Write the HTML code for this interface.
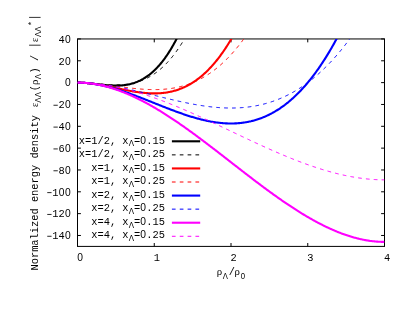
<!DOCTYPE html><html><head><meta charset="utf-8"><style>html,body{margin:0;padding:0;background:#fff}svg{display:block}text{font-family:"Liberation Mono",monospace;font-size:10.37px;fill:#000;white-space:pre}.g{font-family:"Liberation Sans",sans-serif}.s{font-family:"Liberation Serif",serif}</style></head><body>
<svg width="415" height="321" viewBox="0 0 415 321">
<rect width="415" height="321" fill="#fff"/>
<defs><filter id="ff" x="0" y="0" width="415" height="321" filterUnits="userSpaceOnUse"><feOffset dx="0" dy="0"/></filter>
<clipPath id="c"><rect x="77.50" y="38.95" width="307.00" height="207.45"/></clipPath></defs>
<g filter="url(#ff)">
<rect x="77.50" y="38.95" width="307.00" height="207.45" stroke="#000" stroke-width="1" fill="none"/>
<path d="M77.50 235.48h3.40M384.50 235.48h-3.40M77.50 213.64h3.40M384.50 213.64h-3.40M77.50 191.81h3.40M384.50 191.81h-3.40M77.50 169.97h3.40M384.50 169.97h-3.40M77.50 148.13h3.40M384.50 148.13h-3.40M77.50 126.30h3.40M384.50 126.30h-3.40M77.50 104.46h3.40M384.50 104.46h-3.40M77.50 82.62h3.40M384.50 82.62h-3.40M77.50 60.79h3.40M384.50 60.79h-3.40M77.50 38.95h3.40M384.50 38.95h-3.40M77.50 246.40v-3.40M77.50 38.95v3.40M154.25 246.40v-3.40M154.25 38.95v3.40M231.00 246.40v-3.40M231.00 38.95v3.40M307.75 246.40v-3.40M307.75 38.95v3.40M384.50 246.40v-3.40M384.50 38.95v3.40" stroke="#000" stroke-width="1" fill="none"/>
<g transform="translate(46.01,239.33) scale(1,1.000)"><path d="M1.25 -3.05h4.3" stroke="#000" stroke-width="0.85"/><text x="6.22" y="0" style="font-size:10.37px" xml:space="preserve">14</text><text class="g" x="18.92" y="0" style="font-size:10.27px">0</text></g>
<g transform="translate(46.01,217.49) scale(1,1.000)"><path d="M1.25 -3.05h4.3" stroke="#000" stroke-width="0.85"/><text x="6.22" y="0" style="font-size:10.37px" xml:space="preserve">12</text><text class="g" x="18.92" y="0" style="font-size:10.27px">0</text></g>
<g transform="translate(46.01,195.66) scale(1,1.000)"><path d="M1.25 -3.05h4.3" stroke="#000" stroke-width="0.85"/><text x="6.22" y="0" style="font-size:10.37px" xml:space="preserve">1</text><text class="g" x="12.70" y="0" style="font-size:10.27px">0</text><text class="g" x="18.92" y="0" style="font-size:10.27px">0</text></g>
<g transform="translate(52.23,173.82) scale(1,1.000)"><path d="M1.25 -3.05h4.3" stroke="#000" stroke-width="0.85"/><text x="6.22" y="0" style="font-size:10.37px" xml:space="preserve">8</text><text class="g" x="12.70" y="0" style="font-size:10.27px">0</text></g>
<g transform="translate(52.23,151.98) scale(1,1.000)"><path d="M1.25 -3.05h4.3" stroke="#000" stroke-width="0.85"/><text x="6.22" y="0" style="font-size:10.37px" xml:space="preserve">6</text><text class="g" x="12.70" y="0" style="font-size:10.27px">0</text></g>
<g transform="translate(52.23,130.15) scale(1,1.000)"><path d="M1.25 -3.05h4.3" stroke="#000" stroke-width="0.85"/><text x="6.22" y="0" style="font-size:10.37px" xml:space="preserve">4</text><text class="g" x="12.70" y="0" style="font-size:10.27px">0</text></g>
<g transform="translate(52.23,108.31) scale(1,1.000)"><path d="M1.25 -3.05h4.3" stroke="#000" stroke-width="0.85"/><text x="6.22" y="0" style="font-size:10.37px" xml:space="preserve">2</text><text class="g" x="12.70" y="0" style="font-size:10.27px">0</text></g>
<g transform="translate(64.68,86.47) scale(1,1.000)"><text class="g" x="0.26" y="0" style="font-size:10.27px">0</text></g>
<g transform="translate(58.46,64.64) scale(1,1.000)"><text x="0.00" y="0" style="font-size:10.37px" xml:space="preserve">2</text><text class="g" x="6.48" y="0" style="font-size:10.27px">0</text></g>
<g transform="translate(58.46,42.80) scale(1,1.000)"><text x="0.00" y="0" style="font-size:10.37px" xml:space="preserve">4</text><text class="g" x="6.48" y="0" style="font-size:10.27px">0</text></g>
<g transform="translate(77.09,260.60) scale(1,1.000)"><text class="g" x="0.26" y="0" style="font-size:10.27px">0</text></g>
<g transform="translate(153.84,260.60) scale(1,1.000)"><text x="0.00" y="0" style="font-size:10.37px" xml:space="preserve">1</text></g>
<g transform="translate(230.59,260.60) scale(1,1.000)"><text x="0.00" y="0" style="font-size:10.37px" xml:space="preserve">2</text></g>
<g transform="translate(307.34,260.60) scale(1,1.000)"><text x="0.00" y="0" style="font-size:10.37px" xml:space="preserve">3</text></g>
<g transform="translate(384.09,260.60) scale(1,1.000)"><text x="0.00" y="0" style="font-size:10.37px" xml:space="preserve">4</text></g>
<g clip-path="url(#c)" fill="none" stroke-linejoin="round">
<polyline points="77.50,82.62 78.27,82.63 79.03,82.64 79.80,82.66 80.57,82.68 81.34,82.71 82.11,82.74 82.87,82.79 83.64,82.83 84.41,82.88 85.17,82.94 85.94,83.00 86.71,83.06 87.48,83.13 88.25,83.20 89.01,83.28 89.78,83.36 90.55,83.44 91.31,83.52 92.08,83.60 92.85,83.69 93.62,83.78 94.39,83.87 95.15,83.96 95.92,84.05 96.69,84.14 97.45,84.23 98.22,84.32 98.99,84.41 99.76,84.50 100.53,84.59 101.29,84.68 102.06,84.76 102.83,84.84 103.59,84.92 104.36,85.00 105.13,85.08 105.90,85.15 106.66,85.22 107.43,85.28 108.20,85.34 108.97,85.40 109.73,85.45 110.50,85.49 111.27,85.54 112.04,85.57 112.81,85.60 113.57,85.63 114.34,85.64 115.11,85.65 115.88,85.66 116.64,85.65 117.41,85.64 118.18,85.62 118.94,85.60 119.71,85.56 120.48,85.52 121.25,85.46 122.01,85.40 122.78,85.33 123.55,85.24 124.32,85.15 125.09,85.05 125.85,84.93 126.62,84.81 127.39,84.67 128.16,84.53 128.92,84.37 129.69,84.19 130.46,84.01 131.23,83.81 131.99,83.60 132.76,83.38 133.53,83.14 134.30,82.89 135.06,82.62 135.83,82.34 136.60,82.05 137.37,81.74 138.13,81.41 138.90,81.07 139.67,80.71 140.44,80.34 141.20,79.95 141.97,79.54 142.74,79.12 143.50,78.68 144.27,78.22 145.04,77.74 145.81,77.24 146.57,76.73 147.34,76.19 148.11,75.64 148.88,75.07 149.65,74.48 150.41,73.86 151.18,73.23 151.95,72.58 152.72,71.90 153.48,71.21 154.25,70.49 155.02,69.75 155.78,68.99 156.55,68.21 157.32,67.40 158.09,66.57 158.86,65.72 159.62,64.85 160.39,63.95 161.16,63.02 161.93,62.07 162.69,61.10 163.46,60.10 164.23,59.08 165.00,58.03 165.76,56.95 166.53,55.85 167.30,54.72 168.06,53.57 168.83,52.39 169.60,51.18 170.37,49.94 171.13,48.68 171.90,47.38 172.67,46.06 173.44,44.71 174.20,43.33 174.97,41.92 175.74,40.49 176.51,39.02 177.28,37.52 178.04,35.99 178.81,34.43 179.58,32.84 180.35,31.21 181.11,29.56 181.88,27.87 182.65,26.15 183.42,24.40 184.18,22.62 184.95,20.80 185.72,18.95" stroke="#000000" stroke-width="2.10"/>
<polyline points="77.50,82.62 78.27,82.63 79.03,82.63 79.80,82.65 80.57,82.66 81.34,82.68 82.11,82.71 82.87,82.74 83.64,82.77 84.41,82.81 85.17,82.85 85.94,82.89 86.71,82.94 87.48,82.99 88.25,83.04 89.01,83.10 89.78,83.15 90.55,83.21 91.31,83.27 92.08,83.33 92.85,83.39 93.62,83.46 94.39,83.52 95.15,83.58 95.92,83.65 96.69,83.72 97.45,83.78 98.22,83.85 98.99,83.91 99.76,83.98 100.53,84.04 101.29,84.10 102.06,84.16 102.83,84.22 103.59,84.28 104.36,84.34 105.13,84.39 105.90,84.44 106.66,84.49 107.43,84.54 108.20,84.58 108.97,84.62 109.73,84.66 110.50,84.69 111.27,84.72 112.04,84.75 112.81,84.77 113.57,84.78 114.34,84.80 115.11,84.80 115.88,84.81 116.64,84.80 117.41,84.80 118.18,84.78 118.94,84.76 119.71,84.74 120.48,84.71 121.25,84.67 122.01,84.62 122.78,84.57 123.55,84.51 124.32,84.44 125.09,84.37 125.85,84.29 126.62,84.20 127.39,84.10 128.16,83.99 128.92,83.88 129.69,83.75 130.46,83.62 131.23,83.48 131.99,83.33 132.76,83.17 133.53,83.00 134.30,82.82 135.06,82.62 135.83,82.42 136.60,82.21 137.37,81.99 138.13,81.75 138.90,81.51 139.67,81.25 140.44,80.98 141.20,80.70 141.97,80.40 142.74,80.10 143.50,79.78 144.27,79.45 145.04,79.11 145.81,78.75 146.57,78.38 147.34,77.99 148.11,77.60 148.88,77.18 149.65,76.76 150.41,76.32 151.18,75.86 151.95,75.39 152.72,74.91 153.48,74.41 154.25,73.89 155.02,73.36 155.78,72.81 156.55,72.25 157.32,71.66 158.09,71.07 158.86,70.45 159.62,69.82 160.39,69.18 161.16,68.51 161.93,67.83 162.69,67.13 163.46,66.41 164.23,65.67 165.00,64.92 165.76,64.14 166.53,63.35 167.30,62.54 168.06,61.70 168.83,60.85 169.60,59.98 170.37,59.09 171.13,58.18 171.90,57.25 172.67,56.30 173.44,55.33 174.20,54.33 174.97,53.32 175.74,52.28 176.51,51.23 177.28,50.15 178.04,49.05 178.81,47.92 179.58,46.78 180.35,45.61 181.11,44.42 181.88,43.20 182.65,41.97 183.42,40.70 184.18,39.42 184.95,38.11 185.72,36.78 186.49,35.42 187.25,34.04 188.02,32.63 188.79,31.20 189.56,29.75 190.32,28.26 191.09,26.76 191.86,25.22 192.62,23.66 193.39,22.08 194.16,20.47 194.93,18.83 195.69,17.16" stroke="#000000" stroke-width="1.00" stroke-dasharray="3.7 4.15"/>
<polyline points="77.50,82.62 78.27,82.63 79.03,82.64 79.80,82.65 80.57,82.67 81.34,82.70 82.11,82.74 82.87,82.77 83.64,82.82 84.41,82.87 85.17,82.93 85.94,82.99 86.71,83.05 87.48,83.12 88.25,83.20 89.01,83.28 89.78,83.36 90.55,83.45 91.31,83.55 92.08,83.64 92.85,83.75 93.62,83.85 94.39,83.96 95.15,84.07 95.92,84.19 96.69,84.31 97.45,84.43 98.22,84.56 98.99,84.69 99.76,84.82 100.53,84.95 101.29,85.09 102.06,85.23 102.83,85.37 103.59,85.52 104.36,85.66 105.13,85.81 105.90,85.96 106.66,86.11 107.43,86.26 108.20,86.42 108.97,86.58 109.73,86.73 110.50,86.89 111.27,87.05 112.04,87.21 112.81,87.37 113.57,87.53 114.34,87.69 115.11,87.85 115.88,88.02 116.64,88.18 117.41,88.34 118.18,88.50 118.94,88.66 119.71,88.82 120.48,88.98 121.25,89.14 122.01,89.30 122.78,89.46 123.55,89.61 124.32,89.77 125.09,89.92 125.85,90.07 126.62,90.22 127.39,90.37 128.16,90.52 128.92,90.66 129.69,90.80 130.46,90.94 131.23,91.08 131.99,91.21 132.76,91.34 133.53,91.47 134.30,91.60 135.06,91.72 135.83,91.84 136.60,91.96 137.37,92.07 138.13,92.18 138.90,92.29 139.67,92.39 140.44,92.48 141.20,92.58 141.97,92.67 142.74,92.75 143.50,92.83 144.27,92.91 145.04,92.98 145.81,93.04 146.57,93.11 147.34,93.16 148.11,93.21 148.88,93.26 149.65,93.30 150.41,93.33 151.18,93.36 151.95,93.38 152.72,93.39 153.48,93.40 154.25,93.41 155.02,93.40 155.78,93.39 156.55,93.38 157.32,93.35 158.09,93.32 158.86,93.29 159.62,93.24 160.39,93.19 161.16,93.13 161.93,93.06 162.69,92.99 163.46,92.90 164.23,92.81 165.00,92.71 165.76,92.61 166.53,92.49 167.30,92.37 168.06,92.23 168.83,92.09 169.60,91.94 170.37,91.78 171.13,91.61 171.90,91.43 172.67,91.25 173.44,91.05 174.20,90.84 174.97,90.62 175.74,90.40 176.51,90.16 177.28,89.91 178.04,89.66 178.81,89.39 179.58,89.11 180.35,88.82 181.11,88.52 181.88,88.21 182.65,87.89 183.42,87.55 184.18,87.21 184.95,86.85 185.72,86.48 186.49,86.10 187.25,85.71 188.02,85.31 188.79,84.89 189.56,84.46 190.32,84.02 191.09,83.57 191.86,83.10 192.62,82.62 193.39,82.13 194.16,81.63 194.93,81.11 195.69,80.58 196.46,80.03 197.23,79.47 198.00,78.90 198.76,78.32 199.53,77.72 200.30,77.10 201.07,76.47 201.84,75.83 202.60,75.17 203.37,74.50 204.14,73.82 204.91,73.11 205.67,72.40 206.44,71.67 207.21,70.92 207.97,70.16 208.74,69.38 209.51,68.59 210.28,67.78 211.04,66.95 211.81,66.11 212.58,65.25 213.35,64.38 214.12,63.49 214.88,62.58 215.65,61.66 216.42,60.72 217.19,59.76 217.95,58.79 218.72,57.80 219.49,56.79 220.25,55.76 221.02,54.72 221.79,53.66 222.56,52.58 223.33,51.48 224.09,50.37 224.86,49.23 225.63,48.08 226.39,46.91 227.16,45.72 227.93,44.51 228.70,43.28 229.47,42.04 230.23,40.77 231.00,39.49 231.77,38.19 232.53,36.86 233.30,35.52 234.07,34.16 234.84,32.77 235.61,31.37 236.37,29.95 237.14,28.50 237.91,27.04 238.68,25.56 239.44,24.05 240.21,22.53 240.98,20.98 241.75,19.41 242.51,17.82" stroke="#ff0000" stroke-width="2.10"/>
<polyline points="77.50,82.62 78.27,82.63 79.03,82.63 79.80,82.64 80.57,82.66 81.34,82.67 82.11,82.70 82.87,82.72 83.64,82.75 84.41,82.78 85.17,82.82 85.94,82.86 86.71,82.90 87.48,82.95 88.25,83.00 89.01,83.05 89.78,83.10 90.55,83.16 91.31,83.22 92.08,83.28 92.85,83.35 93.62,83.42 94.39,83.49 95.15,83.56 95.92,83.64 96.69,83.72 97.45,83.80 98.22,83.88 98.99,83.96 99.76,84.05 100.53,84.13 101.29,84.22 102.06,84.31 102.83,84.40 103.59,84.50 104.36,84.59 105.13,84.69 105.90,84.79 106.66,84.88 107.43,84.98 108.20,85.08 108.97,85.18 109.73,85.29 110.50,85.39 111.27,85.49 112.04,85.60 112.81,85.70 113.57,85.80 114.34,85.91 115.11,86.01 115.88,86.12 116.64,86.22 117.41,86.33 118.18,86.43 118.94,86.54 119.71,86.64 120.48,86.74 121.25,86.85 122.01,86.95 122.78,87.05 123.55,87.15 124.32,87.25 125.09,87.35 125.85,87.45 126.62,87.55 127.39,87.64 128.16,87.74 128.92,87.83 129.69,87.92 130.46,88.01 131.23,88.10 131.99,88.19 132.76,88.27 133.53,88.36 134.30,88.44 135.06,88.52 135.83,88.60 136.60,88.67 137.37,88.75 138.13,88.82 138.90,88.88 139.67,88.95 140.44,89.01 141.20,89.07 141.97,89.13 142.74,89.19 143.50,89.24 144.27,89.29 145.04,89.33 145.81,89.38 146.57,89.42 147.34,89.45 148.11,89.48 148.88,89.51 149.65,89.54 150.41,89.56 151.18,89.58 151.95,89.59 152.72,89.60 153.48,89.61 154.25,89.61 155.02,89.61 155.78,89.60 156.55,89.59 157.32,89.58 158.09,89.56 158.86,89.53 159.62,89.50 160.39,89.47 161.16,89.43 161.93,89.39 162.69,89.34 163.46,89.29 164.23,89.23 165.00,89.16 165.76,89.09 166.53,89.02 167.30,88.94 168.06,88.85 168.83,88.76 169.60,88.66 170.37,88.56 171.13,88.45 171.90,88.33 172.67,88.21 173.44,88.08 174.20,87.95 174.97,87.81 175.74,87.66 176.51,87.51 177.28,87.35 178.04,87.18 178.81,87.01 179.58,86.83 180.35,86.64 181.11,86.44 181.88,86.24 182.65,86.03 183.42,85.82 184.18,85.59 184.95,85.36 185.72,85.12 186.49,84.88 187.25,84.62 188.02,84.36 188.79,84.09 189.56,83.82 190.32,83.53 191.09,83.24 191.86,82.93 192.62,82.62 193.39,82.31 194.16,81.98 194.93,81.64 195.69,81.30 196.46,80.94 197.23,80.58 198.00,80.21 198.76,79.83 199.53,79.44 200.30,79.05 201.07,78.64 201.84,78.22 202.60,77.80 203.37,77.36 204.14,76.92 204.91,76.46 205.67,76.00 206.44,75.52 207.21,75.04 207.97,74.55 208.74,74.04 209.51,73.53 210.28,73.00 211.04,72.47 211.81,71.92 212.58,71.37 213.35,70.80 214.12,70.23 214.88,69.64 215.65,69.04 216.42,68.43 217.19,67.81 217.95,67.18 218.72,66.54 219.49,65.88 220.25,65.22 221.02,64.54 221.79,63.85 222.56,63.15 223.33,62.44 224.09,61.72 224.86,60.99 225.63,60.24 226.39,59.48 227.16,58.71 227.93,57.93 228.70,57.13 229.47,56.32 230.23,55.50 231.00,54.67 231.77,53.83 232.53,52.97 233.30,52.10 234.07,51.22 234.84,50.32 235.61,49.41 236.37,48.49 237.14,47.55 237.91,46.61 238.68,45.64 239.44,44.67 240.21,43.68 240.98,42.68 241.75,41.66 242.51,40.63 243.28,39.59 244.05,38.53 244.82,37.46 245.58,36.37 246.35,35.27 247.12,34.16 247.89,33.03 248.65,31.89 249.42,30.73 250.19,29.56 250.96,28.37 251.72,27.17 252.49,25.96 253.26,24.73 254.03,23.48 254.79,22.22 255.56,20.94 256.33,19.65 257.10,18.34" stroke="#ff0000" stroke-width="1.00" stroke-dasharray="3.7 4.15"/>
<polyline points="77.50,82.62 78.27,82.63 79.03,82.64 79.80,82.65 80.57,82.67 81.34,82.70 82.11,82.73 82.87,82.77 83.64,82.81 84.41,82.86 85.17,82.92 85.94,82.98 86.71,83.05 87.48,83.12 88.25,83.20 89.01,83.28 89.78,83.37 90.55,83.46 91.31,83.56 92.08,83.66 92.85,83.77 93.62,83.88 94.39,84.00 95.15,84.12 95.92,84.25 96.69,84.38 97.45,84.52 98.22,84.66 98.99,84.80 99.76,84.95 100.53,85.11 101.29,85.26 102.06,85.43 102.83,85.59 103.59,85.77 104.36,85.94 105.13,86.12 105.90,86.30 106.66,86.49 107.43,86.68 108.20,86.87 108.97,87.07 109.73,87.27 110.50,87.48 111.27,87.69 112.04,87.90 112.81,88.11 113.57,88.33 114.34,88.56 115.11,88.78 115.88,89.01 116.64,89.24 117.41,89.47 118.18,89.71 118.94,89.95 119.71,90.20 120.48,90.44 121.25,90.69 122.01,90.94 122.78,91.19 123.55,91.45 124.32,91.71 125.09,91.97 125.85,92.23 126.62,92.50 127.39,92.77 128.16,93.04 128.92,93.31 129.69,93.58 130.46,93.86 131.23,94.14 131.99,94.42 132.76,94.70 133.53,94.98 134.30,95.27 135.06,95.55 135.83,95.84 136.60,96.13 137.37,96.42 138.13,96.71 138.90,97.01 139.67,97.30 140.44,97.60 141.20,97.90 141.97,98.19 142.74,98.49 143.50,98.79 144.27,99.09 145.04,99.40 145.81,99.70 146.57,100.00 147.34,100.30 148.11,100.61 148.88,100.91 149.65,101.22 150.41,101.52 151.18,101.83 151.95,102.14 152.72,102.44 153.48,102.75 154.25,103.06 155.02,103.36 155.78,103.67 156.55,103.97 157.32,104.28 158.09,104.59 158.86,104.89 159.62,105.20 160.39,105.50 161.16,105.81 161.93,106.11 162.69,106.41 163.46,106.72 164.23,107.02 165.00,107.32 165.76,107.62 166.53,107.92 167.30,108.22 168.06,108.51 168.83,108.81 169.60,109.10 170.37,109.40 171.13,109.69 171.90,109.98 172.67,110.27 173.44,110.56 174.20,110.84 174.97,111.13 175.74,111.41 176.51,111.69 177.28,111.97 178.04,112.25 178.81,112.53 179.58,112.80 180.35,113.07 181.11,113.34 181.88,113.61 182.65,113.88 183.42,114.14 184.18,114.40 184.95,114.66 185.72,114.92 186.49,115.17 187.25,115.42 188.02,115.67 188.79,115.92 189.56,116.16 190.32,116.40 191.09,116.64 191.86,116.87 192.62,117.10 193.39,117.33 194.16,117.56 194.93,117.78 195.69,118.00 196.46,118.21 197.23,118.42 198.00,118.63 198.76,118.84 199.53,119.04 200.30,119.24 201.07,119.43 201.84,119.62 202.60,119.81 203.37,119.99 204.14,120.17 204.91,120.35 205.67,120.52 206.44,120.68 207.21,120.85 207.97,121.01 208.74,121.16 209.51,121.31 210.28,121.45 211.04,121.60 211.81,121.73 212.58,121.86 213.35,121.99 214.12,122.11 214.88,122.23 215.65,122.34 216.42,122.45 217.19,122.55 217.95,122.65 218.72,122.75 219.49,122.83 220.25,122.92 221.02,122.99 221.79,123.06 222.56,123.13 223.33,123.19 224.09,123.25 224.86,123.30 225.63,123.34 226.39,123.38 227.16,123.41 227.93,123.44 228.70,123.46 229.47,123.48 230.23,123.48 231.00,123.49 231.77,123.48 232.53,123.48 233.30,123.46 234.07,123.44 234.84,123.41 235.61,123.38 236.37,123.33 237.14,123.29 237.91,123.23 238.68,123.17 239.44,123.10 240.21,123.03 240.98,122.95 241.75,122.86 242.51,122.76 243.28,122.66 244.05,122.55 244.82,122.44 245.58,122.31 246.35,122.18 247.12,122.04 247.89,121.90 248.65,121.74 249.42,121.58 250.19,121.41 250.96,121.24 251.72,121.05 252.49,120.86 253.26,120.66 254.03,120.45 254.79,120.24 255.56,120.01 256.33,119.78 257.10,119.54 257.86,119.30 258.63,119.04 259.40,118.77 260.16,118.50 260.93,118.22 261.70,117.93 262.47,117.63 263.24,117.32 264.00,117.01 264.77,116.68 265.54,116.35 266.31,116.01 267.07,115.66 267.84,115.30 268.61,114.93 269.38,114.55 270.14,114.16 270.91,113.76 271.68,113.36 272.44,112.94 273.21,112.52 273.98,112.08 274.75,111.64 275.51,111.18 276.28,110.72 277.05,110.25 277.82,109.76 278.59,109.27 279.35,108.77 280.12,108.26 280.89,107.73 281.65,107.20 282.42,106.66 283.19,106.10 283.96,105.54 284.73,104.97 285.49,104.38 286.26,103.79 287.03,103.18 287.80,102.57 288.56,101.94 289.33,101.30 290.10,100.65 290.87,99.99 291.63,99.32 292.40,98.64 293.17,97.95 293.93,97.25 294.70,96.53 295.47,95.81 296.24,95.07 297.00,94.32 297.77,93.56 298.54,92.79 299.31,92.01 300.07,91.22 300.84,90.41 301.61,89.59 302.38,88.76 303.14,87.92 303.91,87.07 304.68,86.20 305.45,85.33 306.22,84.44 306.98,83.54 307.75,82.62 308.52,81.70 309.28,80.76 310.05,79.81 310.82,78.85 311.59,77.87 312.36,76.88 313.12,75.88 313.89,74.87 314.66,73.84 315.43,72.81 316.19,71.75 316.96,70.69 317.73,69.61 318.50,68.52 319.26,67.42 320.03,66.30 320.80,65.17 321.57,64.03 322.33,62.87 323.10,61.70 323.87,60.52 324.63,59.32 325.40,58.11 326.17,56.89 326.94,55.65 327.71,54.39 328.47,53.13 329.24,51.85 330.01,50.56 330.78,49.25 331.54,47.93 332.31,46.59 333.08,45.24 333.84,43.88 334.61,42.50 335.38,41.10 336.15,39.70 336.91,38.27 337.68,36.84 338.45,35.38 339.22,33.92 339.99,32.44 340.75,30.94 341.52,29.43 342.29,27.91 343.06,26.36 343.82,24.81 344.59,23.24 345.36,21.65 346.12,20.05 346.89,18.43" stroke="#0000ff" stroke-width="2.10"/>
<polyline points="77.50,82.62 78.27,82.63 79.03,82.63 79.80,82.64 80.57,82.65 81.34,82.67 82.11,82.69 82.87,82.71 83.64,82.74 84.41,82.77 85.17,82.81 85.94,82.85 86.71,82.89 87.48,82.93 88.25,82.98 89.01,83.03 89.78,83.09 90.55,83.14 91.31,83.20 92.08,83.27 92.85,83.34 93.62,83.41 94.39,83.48 95.15,83.55 95.92,83.63 96.69,83.72 97.45,83.80 98.22,83.89 98.99,83.98 99.76,84.07 100.53,84.17 101.29,84.27 102.06,84.37 102.83,84.47 103.59,84.58 104.36,84.69 105.13,84.80 105.90,84.91 106.66,85.03 107.43,85.15 108.20,85.27 108.97,85.39 109.73,85.51 110.50,85.64 111.27,85.77 112.04,85.90 112.81,86.04 113.57,86.17 114.34,86.31 115.11,86.45 115.88,86.59 116.64,86.74 117.41,86.88 118.18,87.03 118.94,87.18 119.71,87.33 120.48,87.48 121.25,87.64 122.01,87.80 122.78,87.95 123.55,88.11 124.32,88.27 125.09,88.44 125.85,88.60 126.62,88.76 127.39,88.93 128.16,89.10 128.92,89.27 129.69,89.44 130.46,89.61 131.23,89.78 131.99,89.96 132.76,90.13 133.53,90.31 134.30,90.49 135.06,90.66 135.83,90.84 136.60,91.02 137.37,91.20 138.13,91.39 138.90,91.57 139.67,91.75 140.44,91.94 141.20,92.12 141.97,92.31 142.74,92.49 143.50,92.68 144.27,92.87 145.04,93.05 145.81,93.24 146.57,93.43 147.34,93.62 148.11,93.81 148.88,94.00 149.65,94.19 150.41,94.38 151.18,94.57 151.95,94.76 152.72,94.95 153.48,95.14 154.25,95.33 155.02,95.52 155.78,95.71 156.55,95.90 157.32,96.09 158.09,96.28 158.86,96.47 159.62,96.66 160.39,96.85 161.16,97.04 161.93,97.23 162.69,97.42 163.46,97.60 164.23,97.79 165.00,97.98 165.76,98.17 166.53,98.35 167.30,98.54 168.06,98.72 168.83,98.91 169.60,99.09 170.37,99.27 171.13,99.45 171.90,99.63 172.67,99.81 173.44,99.99 174.20,100.17 174.97,100.35 175.74,100.53 176.51,100.70 177.28,100.87 178.04,101.05 178.81,101.22 179.58,101.39 180.35,101.56 181.11,101.73 181.88,101.89 182.65,102.06 183.42,102.22 184.18,102.38 184.95,102.55 185.72,102.70 186.49,102.86 187.25,103.02 188.02,103.17 188.79,103.33 189.56,103.48 190.32,103.63 191.09,103.77 191.86,103.92 192.62,104.06 193.39,104.21 194.16,104.35 194.93,104.48 195.69,104.62 196.46,104.75 197.23,104.89 198.00,105.02 198.76,105.14 199.53,105.27 200.30,105.39 201.07,105.51 201.84,105.63 202.60,105.75 203.37,105.86 204.14,105.97 204.91,106.08 205.67,106.19 206.44,106.29 207.21,106.39 207.97,106.49 208.74,106.59 209.51,106.68 210.28,106.77 211.04,106.86 211.81,106.94 212.58,107.02 213.35,107.10 214.12,107.18 214.88,107.25 215.65,107.32 216.42,107.39 217.19,107.45 217.95,107.51 218.72,107.57 219.49,107.63 220.25,107.68 221.02,107.73 221.79,107.77 222.56,107.81 223.33,107.85 224.09,107.88 224.86,107.92 225.63,107.94 226.39,107.97 227.16,107.99 227.93,108.00 228.70,108.02 229.47,108.03 230.23,108.03 231.00,108.03 231.77,108.03 232.53,108.03 233.30,108.02 234.07,108.00 234.84,107.99 235.61,107.96 236.37,107.94 237.14,107.91 237.91,107.87 238.68,107.84 239.44,107.79 240.21,107.75 240.98,107.70 241.75,107.64 242.51,107.58 243.28,107.52 244.05,107.45 244.82,107.38 245.58,107.30 246.35,107.22 247.12,107.13 247.89,107.04 248.65,106.95 249.42,106.85 250.19,106.74 250.96,106.63 251.72,106.52 252.49,106.40 253.26,106.28 254.03,106.15 254.79,106.01 255.56,105.87 256.33,105.73 257.10,105.58 257.86,105.43 258.63,105.27 259.40,105.10 260.16,104.93 260.93,104.76 261.70,104.58 262.47,104.39 263.24,104.20 264.00,104.01 264.77,103.80 265.54,103.60 266.31,103.38 267.07,103.16 267.84,102.94 268.61,102.71 269.38,102.48 270.14,102.23 270.91,101.99 271.68,101.73 272.44,101.48 273.21,101.21 273.98,100.94 274.75,100.67 275.51,100.38 276.28,100.10 277.05,99.80 277.82,99.50 278.59,99.19 279.35,98.88 280.12,98.56 280.89,98.24 281.65,97.91 282.42,97.57 283.19,97.22 283.96,96.87 284.73,96.52 285.49,96.15 286.26,95.78 287.03,95.41 287.80,95.02 288.56,94.63 289.33,94.24 290.10,93.83 290.87,93.42 291.63,93.01 292.40,92.58 293.17,92.15 293.93,91.72 294.70,91.27 295.47,90.82 296.24,90.36 297.00,89.90 297.77,89.43 298.54,88.95 299.31,88.46 300.07,87.97 300.84,87.47 301.61,86.96 302.38,86.44 303.14,85.92 303.91,85.39 304.68,84.85 305.45,84.30 306.22,83.75 306.98,83.19 307.75,82.62 308.52,82.05 309.28,81.46 310.05,80.87 310.82,80.28 311.59,79.67 312.36,79.05 313.12,78.43 313.89,77.80 314.66,77.16 315.43,76.52 316.19,75.87 316.96,75.20 317.73,74.53 318.50,73.85 319.26,73.17 320.03,72.47 320.80,71.77 321.57,71.06 322.33,70.34 323.10,69.61 323.87,68.88 324.63,68.13 325.40,67.38 326.17,66.62 326.94,65.85 327.71,65.07 328.47,64.28 329.24,63.49 330.01,62.68 330.78,61.87 331.54,61.05 332.31,60.22 333.08,59.38 333.84,58.53 334.61,57.67 335.38,56.81 336.15,55.93 336.91,55.05 337.68,54.15 338.45,53.25 339.22,52.34 339.99,51.42 340.75,50.49 341.52,49.55 342.29,48.60 343.06,47.64 343.82,46.67 344.59,45.70 345.36,44.71 346.12,43.71 346.89,42.71 347.66,41.69 348.43,40.67 349.19,39.64 349.96,38.59 350.73,37.54 351.50,36.48 352.26,35.40 353.03,34.32 353.80,33.23 354.57,32.12 355.34,31.01 356.10,29.89 356.87,28.76 357.64,27.61 358.41,26.46 359.17,25.30 359.94,24.12 360.71,22.94 361.48,21.75 362.24,20.54 363.01,19.33 363.78,18.10" stroke="#0000ff" stroke-width="1.00" stroke-dasharray="3.7 4.15"/>
<polyline points="77.50,82.62 78.27,82.63 79.03,82.64 79.80,82.65 80.57,82.67 81.34,82.70 82.11,82.73 82.87,82.77 83.64,82.81 84.41,82.86 85.17,82.92 85.94,82.98 86.71,83.05 87.48,83.12 88.25,83.20 89.01,83.28 89.78,83.37 90.55,83.46 91.31,83.56 92.08,83.67 92.85,83.78 93.62,83.89 94.39,84.02 95.15,84.14 95.92,84.27 96.69,84.41 97.45,84.55 98.22,84.70 98.99,84.86 99.76,85.01 100.53,85.18 101.29,85.35 102.06,85.52 102.83,85.70 103.59,85.88 104.36,86.07 105.13,86.26 105.90,86.46 106.66,86.66 107.43,86.87 108.20,87.08 108.97,87.30 109.73,87.52 110.50,87.75 111.27,87.98 112.04,88.22 112.81,88.46 113.57,88.70 114.34,88.95 115.11,89.21 115.88,89.47 116.64,89.73 117.41,90.00 118.18,90.27 118.94,90.55 119.71,90.83 120.48,91.11 121.25,91.40 122.01,91.70 122.78,92.00 123.55,92.30 124.32,92.61 125.09,92.92 125.85,93.23 126.62,93.55 127.39,93.87 128.16,94.20 128.92,94.53 129.69,94.87 130.46,95.21 131.23,95.55 131.99,95.90 132.76,96.25 133.53,96.60 134.30,96.96 135.06,97.32 135.83,97.69 136.60,98.06 137.37,98.43 138.13,98.81 138.90,99.19 139.67,99.57 140.44,99.96 141.20,100.35 141.97,100.74 142.74,101.14 143.50,101.54 144.27,101.95 145.04,102.36 145.81,102.77 146.57,103.18 147.34,103.60 148.11,104.02 148.88,104.45 149.65,104.88 150.41,105.31 151.18,105.74 151.95,106.18 152.72,106.62 153.48,107.06 154.25,107.51 155.02,107.96 155.78,108.41 156.55,108.87 157.32,109.32 158.09,109.79 158.86,110.25 159.62,110.72 160.39,111.19 161.16,111.66 161.93,112.13 162.69,112.61 163.46,113.09 164.23,113.57 165.00,114.06 165.76,114.55 166.53,115.04 167.30,115.53 168.06,116.03 168.83,116.52 169.60,117.03 170.37,117.53 171.13,118.03 171.90,118.54 172.67,119.05 173.44,119.56 174.20,120.08 174.97,120.59 175.74,121.11 176.51,121.63 177.28,122.16 178.04,122.68 178.81,123.21 179.58,123.74 180.35,124.27 181.11,124.80 181.88,125.34 182.65,125.87 183.42,126.41 184.18,126.95 184.95,127.50 185.72,128.04 186.49,128.59 187.25,129.14 188.02,129.68 188.79,130.24 189.56,130.79 190.32,131.34 191.09,131.90 191.86,132.46 192.62,133.02 193.39,133.58 194.16,134.14 194.93,134.70 195.69,135.27 196.46,135.83 197.23,136.40 198.00,136.97 198.76,137.54 199.53,138.11 200.30,138.69 201.07,139.26 201.84,139.83 202.60,140.41 203.37,140.99 204.14,141.57 204.91,142.15 205.67,142.73 206.44,143.31 207.21,143.89 207.97,144.47 208.74,145.06 209.51,145.64 210.28,146.23 211.04,146.82 211.81,147.40 212.58,147.99 213.35,148.58 214.12,149.17 214.88,149.76 215.65,150.35 216.42,150.94 217.19,151.54 217.95,152.13 218.72,152.72 219.49,153.31 220.25,153.91 221.02,154.50 221.79,155.10 222.56,155.69 223.33,156.29 224.09,156.89 224.86,157.48 225.63,158.08 226.39,158.67 227.16,159.27 227.93,159.87 228.70,160.47 229.47,161.06 230.23,161.66 231.00,162.26 231.77,162.85 232.53,163.45 233.30,164.05 234.07,164.65 234.84,165.24 235.61,165.84 236.37,166.44 237.14,167.03 237.91,167.63 238.68,168.22 239.44,168.82 240.21,169.41 240.98,170.01 241.75,170.60 242.51,171.20 243.28,171.79 244.05,172.39 244.82,172.98 245.58,173.57 246.35,174.16 247.12,174.75 247.89,175.34 248.65,175.93 249.42,176.52 250.19,177.11 250.96,177.70 251.72,178.28 252.49,178.87 253.26,179.46 254.03,180.04 254.79,180.62 255.56,181.21 256.33,181.79 257.10,182.37 257.86,182.95 258.63,183.53 259.40,184.10 260.16,184.68 260.93,185.25 261.70,185.83 262.47,186.40 263.24,186.97 264.00,187.54 264.77,188.11 265.54,188.68 266.31,189.25 267.07,189.81 267.84,190.37 268.61,190.94 269.38,191.50 270.14,192.06 270.91,192.61 271.68,193.17 272.44,193.72 273.21,194.28 273.98,194.83 274.75,195.38 275.51,195.93 276.28,196.47 277.05,197.02 277.82,197.56 278.59,198.10 279.35,198.64 280.12,199.18 280.89,199.71 281.65,200.24 282.42,200.78 283.19,201.30 283.96,201.83 284.73,202.36 285.49,202.88 286.26,203.40 287.03,203.92 287.80,204.44 288.56,204.95 289.33,205.46 290.10,205.97 290.87,206.48 291.63,206.99 292.40,207.49 293.17,207.99 293.93,208.49 294.70,208.98 295.47,209.48 296.24,209.97 297.00,210.45 297.77,210.94 298.54,211.42 299.31,211.90 300.07,212.38 300.84,212.86 301.61,213.33 302.38,213.80 303.14,214.26 303.91,214.73 304.68,215.19 305.45,215.65 306.22,216.10 306.98,216.55 307.75,217.00 308.52,217.45 309.28,217.89 310.05,218.33 310.82,218.77 311.59,219.21 312.36,219.64 313.12,220.06 313.89,220.49 314.66,220.91 315.43,221.33 316.19,221.74 316.96,222.16 317.73,222.56 318.50,222.97 319.26,223.37 320.03,223.77 320.80,224.16 321.57,224.55 322.33,224.94 323.10,225.33 323.87,225.71 324.63,226.08 325.40,226.46 326.17,226.83 326.94,227.19 327.71,227.55 328.47,227.91 329.24,228.27 330.01,228.62 330.78,228.96 331.54,229.31 332.31,229.65 333.08,229.98 333.84,230.31 334.61,230.64 335.38,230.96 336.15,231.28 336.91,231.60 337.68,231.91 338.45,232.21 339.22,232.52 339.99,232.81 340.75,233.11 341.52,233.40 342.29,233.68 343.06,233.97 343.82,234.24 344.59,234.51 345.36,234.78 346.12,235.05 346.89,235.31 347.66,235.56 348.43,235.81 349.19,236.06 349.96,236.30 350.73,236.53 351.50,236.76 352.26,236.99 353.03,237.21 353.80,237.43 354.57,237.64 355.34,237.85 356.10,238.05 356.87,238.25 357.64,238.44 358.41,238.63 359.17,238.82 359.94,238.99 360.71,239.17 361.48,239.34 362.24,239.50 363.01,239.66 363.78,239.81 364.55,239.96 365.31,240.10 366.08,240.24 366.85,240.37 367.62,240.50 368.38,240.62 369.15,240.73 369.92,240.85 370.69,240.95 371.45,241.05 372.22,241.15 372.99,241.23 373.75,241.32 374.52,241.40 375.29,241.47 376.06,241.53 376.82,241.60 377.59,241.65 378.36,241.70 379.13,241.74 379.89,241.78 380.66,241.82 381.43,241.84 382.20,241.86 382.96,241.88 383.73,241.89 384.50,241.89" stroke="#ff00ff" stroke-width="2.10"/>
<polyline points="77.50,82.62 78.27,82.63 79.03,82.63 79.80,82.64 80.57,82.65 81.34,82.67 82.11,82.69 82.87,82.71 83.64,82.74 84.41,82.77 85.17,82.80 85.94,82.84 86.71,82.88 87.48,82.93 88.25,82.97 89.01,83.02 89.78,83.08 90.55,83.14 91.31,83.20 92.08,83.26 92.85,83.33 93.62,83.40 94.39,83.47 95.15,83.55 95.92,83.63 96.69,83.72 97.45,83.80 98.22,83.89 98.99,83.99 99.76,84.08 100.53,84.18 101.29,84.28 102.06,84.39 102.83,84.50 103.59,84.61 104.36,84.73 105.13,84.84 105.90,84.97 106.66,85.09 107.43,85.22 108.20,85.35 108.97,85.48 109.73,85.61 110.50,85.75 111.27,85.89 112.04,86.04 112.81,86.19 113.57,86.34 114.34,86.49 115.11,86.64 115.88,86.80 116.64,86.96 117.41,87.13 118.18,87.29 118.94,87.46 119.71,87.63 120.48,87.81 121.25,87.98 122.01,88.16 122.78,88.35 123.55,88.53 124.32,88.72 125.09,88.91 125.85,89.10 126.62,89.29 127.39,89.49 128.16,89.69 128.92,89.89 129.69,90.10 130.46,90.30 131.23,90.51 131.99,90.73 132.76,90.94 133.53,91.16 134.30,91.37 135.06,91.60 135.83,91.82 136.60,92.04 137.37,92.27 138.13,92.50 138.90,92.73 139.67,92.97 140.44,93.21 141.20,93.44 141.97,93.69 142.74,93.93 143.50,94.17 144.27,94.42 145.04,94.67 145.81,94.92 146.57,95.17 147.34,95.43 148.11,95.69 148.88,95.95 149.65,96.21 150.41,96.47 151.18,96.74 151.95,97.00 152.72,97.27 153.48,97.54 154.25,97.81 155.02,98.09 155.78,98.37 156.55,98.64 157.32,98.92 158.09,99.20 158.86,99.49 159.62,99.77 160.39,100.06 161.16,100.35 161.93,100.64 162.69,100.93 163.46,101.22 164.23,101.52 165.00,101.81 165.76,102.11 166.53,102.41 167.30,102.71 168.06,103.01 168.83,103.32 169.60,103.62 170.37,103.93 171.13,104.24 171.90,104.55 172.67,104.86 173.44,105.17 174.20,105.49 174.97,105.80 175.74,106.12 176.51,106.44 177.28,106.76 178.04,107.08 178.81,107.40 179.58,107.72 180.35,108.05 181.11,108.37 181.88,108.70 182.65,109.03 183.42,109.35 184.18,109.68 184.95,110.02 185.72,110.35 186.49,110.68 187.25,111.02 188.02,111.35 188.79,111.69 189.56,112.03 190.32,112.36 191.09,112.70 191.86,113.04 192.62,113.39 193.39,113.73 194.16,114.07 194.93,114.41 195.69,114.76 196.46,115.11 197.23,115.45 198.00,115.80 198.76,116.15 199.53,116.50 200.30,116.85 201.07,117.20 201.84,117.55 202.60,117.90 203.37,118.25 204.14,118.60 204.91,118.96 205.67,119.31 206.44,119.67 207.21,120.02 207.97,120.38 208.74,120.74 209.51,121.09 210.28,121.45 211.04,121.81 211.81,122.17 212.58,122.53 213.35,122.89 214.12,123.25 214.88,123.61 215.65,123.97 216.42,124.33 217.19,124.69 217.95,125.05 218.72,125.41 219.49,125.78 220.25,126.14 221.02,126.50 221.79,126.86 222.56,127.23 223.33,127.59 224.09,127.96 224.86,128.32 225.63,128.68 226.39,129.05 227.16,129.41 227.93,129.78 228.70,130.14 229.47,130.51 230.23,130.87 231.00,131.23 231.77,131.60 232.53,131.96 233.30,132.33 234.07,132.69 234.84,133.06 235.61,133.42 236.37,133.79 237.14,134.15 237.91,134.51 238.68,134.88 239.44,135.24 240.21,135.60 240.98,135.97 241.75,136.33 242.51,136.69 243.28,137.06 244.05,137.42 244.82,137.78 245.58,138.14 246.35,138.50 247.12,138.86 247.89,139.22 248.65,139.58 249.42,139.94 250.19,140.30 250.96,140.66 251.72,141.02 252.49,141.38 253.26,141.73 254.03,142.09 254.79,142.45 255.56,142.80 256.33,143.16 257.10,143.51 257.86,143.86 258.63,144.22 259.40,144.57 260.16,144.92 260.93,145.27 261.70,145.62 262.47,145.97 263.24,146.32 264.00,146.67 264.77,147.02 265.54,147.36 266.31,147.71 267.07,148.05 267.84,148.40 268.61,148.74 269.38,149.08 270.14,149.42 270.91,149.77 271.68,150.10 272.44,150.44 273.21,150.78 273.98,151.12 274.75,151.45 275.51,151.79 276.28,152.12 277.05,152.45 277.82,152.78 278.59,153.11 279.35,153.44 280.12,153.77 280.89,154.10 281.65,154.42 282.42,154.75 283.19,155.07 283.96,155.39 284.73,155.71 285.49,156.03 286.26,156.35 287.03,156.67 287.80,156.98 288.56,157.30 289.33,157.61 290.10,157.92 290.87,158.23 291.63,158.54 292.40,158.85 293.17,159.15 293.93,159.45 294.70,159.76 295.47,160.06 296.24,160.36 297.00,160.66 297.77,160.95 298.54,161.25 299.31,161.54 300.07,161.83 300.84,162.12 301.61,162.41 302.38,162.70 303.14,162.98 303.91,163.26 304.68,163.55 305.45,163.83 306.22,164.10 306.98,164.38 307.75,164.65 308.52,164.93 309.28,165.20 310.05,165.47 310.82,165.73 311.59,166.00 312.36,166.26 313.12,166.52 313.89,166.78 314.66,167.04 315.43,167.29 316.19,167.55 316.96,167.80 317.73,168.05 318.50,168.30 319.26,168.54 320.03,168.78 320.80,169.02 321.57,169.26 322.33,169.50 323.10,169.73 323.87,169.97 324.63,170.20 325.40,170.42 326.17,170.65 326.94,170.87 327.71,171.09 328.47,171.31 329.24,171.53 330.01,171.74 330.78,171.95 331.54,172.16 332.31,172.37 333.08,172.58 333.84,172.78 334.61,172.98 335.38,173.17 336.15,173.37 336.91,173.56 337.68,173.75 338.45,173.94 339.22,174.12 339.99,174.31 340.75,174.49 341.52,174.66 342.29,174.84 343.06,175.01 343.82,175.18 344.59,175.34 345.36,175.51 346.12,175.67 346.89,175.83 347.66,175.98 348.43,176.13 349.19,176.28 349.96,176.43 350.73,176.57 351.50,176.72 352.26,176.85 353.03,176.99 353.80,177.12 354.57,177.25 355.34,177.38 356.10,177.50 356.87,177.62 357.64,177.74 358.41,177.86 359.17,177.97 359.94,178.08 360.71,178.18 361.48,178.29 362.24,178.39 363.01,178.48 363.78,178.58 364.55,178.67 365.31,178.75 366.08,178.84 366.85,178.92 367.62,179.00 368.38,179.07 369.15,179.14 369.92,179.21 370.69,179.27 371.45,179.33 372.22,179.39 372.99,179.45 373.75,179.50 374.52,179.54 375.29,179.59 376.06,179.63 376.82,179.67 377.59,179.70 378.36,179.73 379.13,179.76 379.89,179.78 380.66,179.80 381.43,179.82 382.20,179.83 382.96,179.84 383.73,179.84 384.50,179.85" stroke="#ff00ff" stroke-width="1.00" stroke-dasharray="3.7 4.15"/>
</g>
<g transform="translate(78.82,143.50) scale(1,1.000)"><text x="0.00" y="0" style="font-size:10.37px" xml:space="preserve">x=1/2, x</text></g>
<text class="g" transform="translate(128.80,146.35) scale(0.860,1)" style="font-size:9.30px">Λ</text>
<g transform="translate(133.89,143.50) scale(1,1.000)"><text x="0.00" y="0" style="font-size:10.37px" xml:space="preserve">=</text><text class="g" x="6.48" y="0" style="font-size:10.27px">0</text><text x="12.44" y="0" style="font-size:10.37px" xml:space="preserve">.15</text></g>
<path d="M171.9 141.30H200.2" stroke="#000000" stroke-width="2.10"/>
<g transform="translate(78.82,157.07) scale(1,1.000)"><text x="0.00" y="0" style="font-size:10.37px" xml:space="preserve">x=1/2, x</text></g>
<text class="g" transform="translate(128.80,159.92) scale(0.860,1)" style="font-size:9.30px">Λ</text>
<g transform="translate(133.89,157.07) scale(1,1.000)"><text x="0.00" y="0" style="font-size:10.37px" xml:space="preserve">=</text><text class="g" x="6.48" y="0" style="font-size:10.27px">0</text><text x="12.44" y="0" style="font-size:10.37px" xml:space="preserve">.25</text></g>
<path d="M171.9 154.87H200.2" stroke="#000000" stroke-width="1.00" stroke-dasharray="3.7 4.15"/>
<g transform="translate(91.27,170.64) scale(1,1.000)"><text x="0.00" y="0" style="font-size:10.37px" xml:space="preserve">x=1, x</text></g>
<text class="g" transform="translate(128.80,173.49) scale(0.860,1)" style="font-size:9.30px">Λ</text>
<g transform="translate(133.89,170.64) scale(1,1.000)"><text x="0.00" y="0" style="font-size:10.37px" xml:space="preserve">=</text><text class="g" x="6.48" y="0" style="font-size:10.27px">0</text><text x="12.44" y="0" style="font-size:10.37px" xml:space="preserve">.15</text></g>
<path d="M171.9 168.44H200.2" stroke="#ff0000" stroke-width="2.10"/>
<g transform="translate(91.27,184.21) scale(1,1.000)"><text x="0.00" y="0" style="font-size:10.37px" xml:space="preserve">x=1, x</text></g>
<text class="g" transform="translate(128.80,187.06) scale(0.860,1)" style="font-size:9.30px">Λ</text>
<g transform="translate(133.89,184.21) scale(1,1.000)"><text x="0.00" y="0" style="font-size:10.37px" xml:space="preserve">=</text><text class="g" x="6.48" y="0" style="font-size:10.27px">0</text><text x="12.44" y="0" style="font-size:10.37px" xml:space="preserve">.25</text></g>
<path d="M171.9 182.01H200.2" stroke="#ff0000" stroke-width="1.00" stroke-dasharray="3.7 4.15"/>
<g transform="translate(91.27,197.78) scale(1,1.000)"><text x="0.00" y="0" style="font-size:10.37px" xml:space="preserve">x=2, x</text></g>
<text class="g" transform="translate(128.80,200.63) scale(0.860,1)" style="font-size:9.30px">Λ</text>
<g transform="translate(133.89,197.78) scale(1,1.000)"><text x="0.00" y="0" style="font-size:10.37px" xml:space="preserve">=</text><text class="g" x="6.48" y="0" style="font-size:10.27px">0</text><text x="12.44" y="0" style="font-size:10.37px" xml:space="preserve">.15</text></g>
<path d="M171.9 195.58H200.2" stroke="#0000ff" stroke-width="2.10"/>
<g transform="translate(91.27,211.35) scale(1,1.000)"><text x="0.00" y="0" style="font-size:10.37px" xml:space="preserve">x=2, x</text></g>
<text class="g" transform="translate(128.80,214.20) scale(0.860,1)" style="font-size:9.30px">Λ</text>
<g transform="translate(133.89,211.35) scale(1,1.000)"><text x="0.00" y="0" style="font-size:10.37px" xml:space="preserve">=</text><text class="g" x="6.48" y="0" style="font-size:10.27px">0</text><text x="12.44" y="0" style="font-size:10.37px" xml:space="preserve">.25</text></g>
<path d="M171.9 209.15H200.2" stroke="#0000ff" stroke-width="1.00" stroke-dasharray="3.7 4.15"/>
<g transform="translate(91.27,224.92) scale(1,1.000)"><text x="0.00" y="0" style="font-size:10.37px" xml:space="preserve">x=4, x</text></g>
<text class="g" transform="translate(128.80,227.77) scale(0.860,1)" style="font-size:9.30px">Λ</text>
<g transform="translate(133.89,224.92) scale(1,1.000)"><text x="0.00" y="0" style="font-size:10.37px" xml:space="preserve">=</text><text class="g" x="6.48" y="0" style="font-size:10.27px">0</text><text x="12.44" y="0" style="font-size:10.37px" xml:space="preserve">.15</text></g>
<path d="M171.9 222.72H200.2" stroke="#ff00ff" stroke-width="2.10"/>
<g transform="translate(91.27,238.49) scale(1,1.000)"><text x="0.00" y="0" style="font-size:10.37px" xml:space="preserve">x=4, x</text></g>
<text class="g" transform="translate(128.80,241.34) scale(0.860,1)" style="font-size:9.30px">Λ</text>
<g transform="translate(133.89,238.49) scale(1,1.000)"><text x="0.00" y="0" style="font-size:10.37px" xml:space="preserve">=</text><text class="g" x="6.48" y="0" style="font-size:10.27px">0</text><text x="12.44" y="0" style="font-size:10.37px" xml:space="preserve">.25</text></g>
<path d="M171.9 236.29H200.2" stroke="#ff00ff" stroke-width="1.00" stroke-dasharray="3.7 4.15"/>
<text class="s" x="216.70" y="275.00" style="font-size:10.78px">ρ</text>
<text class="g" transform="translate(222.70,278.60) scale(0.830,1)" style="font-size:9.30px">Λ</text>
<g transform="translate(228.80,275.00) scale(1,1.000)"><text x="0.00" y="0" style="font-size:10.37px" xml:space="preserve">/</text></g>
<text class="s" x="234.50" y="275.00" style="font-size:10.78px">ρ</text>
<text class="g" transform="translate(240.7,278.50) scale(0.95,1)" style="font-size:8.2px">0</text>
<g transform="translate(38,270.5) rotate(-90)">
<g transform="translate(0.00,0.00) scale(1,1.000)"><text x="0.00" y="0" style="font-size:10.37px" xml:space="preserve">Normalized energy density</text></g>
<text class="s" x="163.50" y="0.00" style="font-size:9.64px">ε</text>
<text class="g" transform="translate(167.80,3.00) scale(0.860,1)" style="font-size:9.30px">ΛΛ</text>
<g transform="translate(179.20,0.00) scale(1,1.000)"><text x="0.00" y="0" style="font-size:10.37px" xml:space="preserve">(</text></g>
<text class="s" x="185.50" y="0.00" style="font-size:10.78px">ρ</text>
<text class="g" transform="translate(191.20,3.00) scale(0.860,1)" style="font-size:9.30px">Λ</text>
<g transform="translate(197.00,0.00) scale(1,1.000)"><text x="0.00" y="0" style="font-size:10.37px" xml:space="preserve">)</text></g>
<g transform="translate(209.50,0.00) scale(1,1.000)"><text x="0.00" y="0" style="font-size:10.37px" xml:space="preserve">/</text></g>
<path d="M225.3 -8.9V2.6M253.1 -8.9V2.6" stroke="#000" stroke-width="0.8" fill="none"/>
<text class="s" x="228.45" y="0.00" style="font-size:9.64px">ε</text>
<text class="g" transform="translate(233.40,3.00) scale(0.860,1)" style="font-size:9.30px">ΛΛ</text>
<text x="244.61" y="-2.8" style="font-size:8.3px">*</text>
</g>
</g>
</svg></body></html>
